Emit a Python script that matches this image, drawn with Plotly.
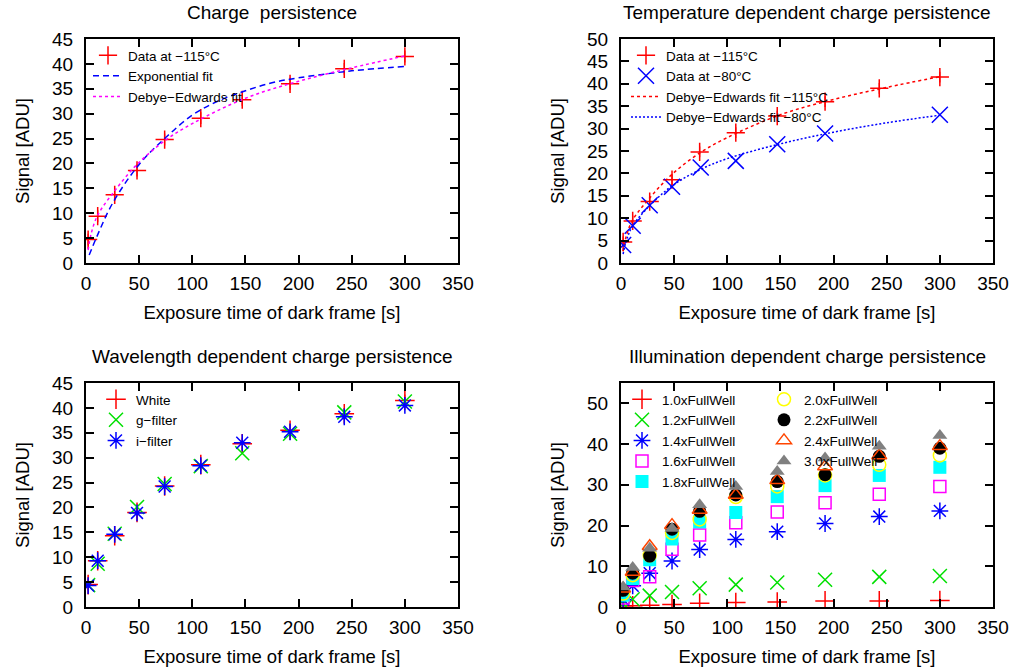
import plotly.graph_objects as go

# ---------------- data ----------------
t = [2, 11, 27, 48, 74, 108, 147, 192, 243, 300]

# Charge persistence (-115 C)
sig_115 = [4.7, 9.4, 13.7, 18.6, 24.8, 29.1, 32.8, 36.0, 39.0, 41.5]
err_115 = [1.2, 1.2, 1.2, 1.2, 1.2, 1.2, 1.2, 1.2, 1.2, 1.2]

exp_fit_t = [3, 10, 25, 50, 75, 100, 125, 150, 175, 200, 250, 300]
exp_fit_s = [1.6, 5.2, 12.0, 19.8, 25.2, 29.7, 32.6, 34.6, 36.2, 37.2, 38.6, 39.5]

de_fit_t = [2, 5, 11, 27, 48, 75, 100, 150, 200, 250, 300]
de_fit_115 = [2.6, 6.0, 9.6, 14.5, 19.8, 24.7, 28.0, 33.1, 36.5, 39.2, 41.6]
de_fit_80 = [2.0, 5.0, 8.3, 12.8, 17.2, 20.9, 23.3, 26.6, 29.2, 31.3, 33.0]

# Temperature dependent (-80 C)
t_80 = [2, 11, 27, 48, 75, 108, 147, 192, 300]
sig_80 = [4.0, 8.3, 12.9, 17.0, 21.3, 22.8, 26.5, 28.9, 33.1]

# Wavelength dependent
white = [4.5, 9.3, 14.3, 19.0, 24.3, 28.6, 32.8, 35.5, 38.8, 41.5]
g_filter = [4.4, 8.7, 14.7, 20.1, 24.7, 28.3, 30.9, 34.8, 39.1, 41.3]
i_filter = [4.3, 9.3, 14.6, 18.9, 24.2, 28.4, 33.0, 35.2, 38.2, 40.5]

# Illumination dependent
fw10 = [0.3, 0.3, 0.4, 0.6, 0.9, 1.1, 1.2, 1.5, 1.5, 1.6]
fw12 = [0.8, 1.9, 2.8, 3.7, 4.6, 5.5, 6.0, 6.7, 7.4, 7.6]
fw14 = [1.8, 5.2, 8.3, 11.3, 14.1, 16.6, 18.5, 20.5, 22.2, 23.6]
fw16 = [2.2, 6.5, 7.4, 14.2, 17.7, 20.7, 23.3, 25.6, 27.7, 29.6]
fw18 = [2.9, 7.0, 11.6, 16.7, 20.9, 23.2, 27.1, 29.8, 32.3, 34.3]
fw20 = [3.3, 7.8, 12.7, 18.2, 21.5, 27.0, 29.6, 32.3, 34.9, 37.2]
fw22 = [4.1, 8.3, 12.5, 19.1, 23.5, 27.5, 30.8, 32.5, 37.0, 39.0]
fw24 = [4.5, 8.6, 14.9, 20.1, 23.8, 27.5, 31.1, 34.5, 37.2, 39.5]
fw30 = [4.9, 9.7, 14.4, 19.3, 25.1, 29.6, 33.3, 36.6, 39.5, 42.1]

titles = ["Charge  persistence", "Temperature dependent charge persistence",
          "Wavelength dependent charge persistence", "Illumination dependent charge persistence"]
xlabel = "Exposure time of dark frame [s]"
ylabel = "Signal [ADU]"

# ---------------- figure ----------------
W, H = 1012, 668
FONT = "Liberation Sans, Arial, Helvetica, sans-serif"

def px(x):
    return x / W

def py(y):
    return 1 - y / H

RED, GREEN, BLUE = "#ff0000", "#00e000", "#0000ff"

fig = go.Figure()

def err(arr, color):
    return dict(type="data", array=arr, color=color, thickness=1.2, width=0)

# Panel 1
fig.add_trace(go.Scatter(x=t, y=sig_115, mode="markers", name="Data at \u2212115\u00b0C",
                         marker=dict(symbol="cross-thin", size=13, line=dict(color=RED, width=1.5), color=RED),
                         error_y=err(err_115, RED), xaxis="x", yaxis="y", legend="legend"))
fig.add_trace(go.Scatter(x=exp_fit_t, y=exp_fit_s, mode="lines", name="Exponential fit",
                         line=dict(color=BLUE, width=1.5, dash="6px,4px", shape="spline"),
                         xaxis="x", yaxis="y", legend="legend"))
fig.add_trace(go.Scatter(x=de_fit_t, y=de_fit_115, mode="lines", name="Debye\u2212Edwards fit",
                         line=dict(color="#ff00ff", width=1.5, dash="3px,3px", shape="spline"),
                         xaxis="x", yaxis="y", legend="legend"))

# Panel 2
fig.add_trace(go.Scatter(x=t, y=sig_115, mode="markers", name="Data at \u2212115\u00b0C",
                         marker=dict(symbol="cross-thin", size=13, line=dict(color=RED, width=1.5), color=RED),
                         error_y=err(err_115, RED), xaxis="x2", yaxis="y2", legend="legend2"))
fig.add_trace(go.Scatter(x=t_80, y=sig_80, mode="markers", name="Data at \u221280\u00b0C",
                         marker=dict(symbol="x-thin", size=16, line=dict(color=BLUE, width=1.5), color=BLUE),
                         xaxis="x2", yaxis="y2", legend="legend2"))
fig.add_trace(go.Scatter(x=de_fit_t, y=de_fit_115, mode="lines", name="Debye\u2212Edwards fit \u2212115\u00b0C",
                         line=dict(color=RED, width=1.5, dash="3px,3px", shape="spline"),
                         xaxis="x2", yaxis="y2", legend="legend2"))
fig.add_trace(go.Scatter(x=de_fit_t, y=de_fit_80, mode="lines", name="Debye\u2212Edwards fit \u221280\u00b0C",
                         line=dict(color=BLUE, width=1.5, dash="2px,2px", shape="spline"),
                         xaxis="x2", yaxis="y2", legend="legend2"))

# Panel 3
fig.add_trace(go.Scatter(x=t, y=white, mode="markers", name="White",
                         marker=dict(symbol="cross-thin", size=14, line=dict(color=RED, width=1.5), color=RED),
                         error_y=err(err_115, RED), xaxis="x3", yaxis="y3", legend="legend3"))
fig.add_trace(go.Scatter(x=t, y=g_filter, mode="markers", name="g\u2212filter",
                         marker=dict(symbol="x-thin", size=14, line=dict(color=GREEN, width=1.5), color=GREEN),
                         xaxis="x3", yaxis="y3", legend="legend3"))
fig.add_trace(go.Scatter(x=t, y=i_filter, mode="markers", name="i\u2212filter",
                         marker=dict(symbol="asterisk-open", size=14, line=dict(color=BLUE, width=1.5), color=BLUE),
                         xaxis="x3", yaxis="y3", legend="legend3"))

# Panel 4
specs = [
    (fw10, "1.0xFullWell", dict(symbol="cross-thin", size=14, line=dict(color=RED, width=1.5), color=RED), "legend4"),
    (fw12, "1.2xFullWell", dict(symbol="x-thin", size=14, line=dict(color=GREEN, width=1.5), color=GREEN), "legend4"),
    (fw14, "1.4xFullWell", dict(symbol="asterisk-open", size=14, line=dict(color=BLUE, width=1.5), color=BLUE), "legend4"),
    (fw16, "1.6xFullWell", dict(symbol="square-open", size=12, line=dict(color="#ff00ff", width=1.5), color="#ff00ff"), "legend4"),
    (fw18, "1.8xFullWell", dict(symbol="square", size=13, line=dict(width=0), color="#00ffff"), "legend4"),
    (fw20, "2.0xFullWell", dict(symbol="circle-open", size=13, line=dict(color="#ffff00", width=1.5), color="#ffff00"), "legend5"),
    (fw22, "2.2xFullWell", dict(symbol="circle", size=13, line=dict(width=0), color="#000000"), "legend5"),
    (fw24, "2.4xFullWell", dict(symbol="triangle-up-open", size=13, line=dict(color="#ff4500", width=1.5), color="#ff4500"), "legend5"),
    (fw30, "3.0xFullWell", dict(symbol="triangle-up", size=13, line=dict(width=0), color="#808080"), "legend5"),
]
for ys, nm, mk, lg in specs:
    fig.add_trace(go.Scatter(x=t, y=ys, mode="markers", name=nm, marker=mk,
                             xaxis="x4", yaxis="y4", legend=lg))

# ---------------- layout ----------------
cols = [(86, 458), (621, 993)]
rows = [(39, 263), (383, 607)]
yranges = [[0, 45], [0, 50], [0, 45], [0, 55]]
ydticks = [5, 5, 5, 10]

axis_common = dict(showline=True, linecolor="black", linewidth=2, mirror="allticks",
                   ticks="inside", ticklen=8, tickwidth=1.5, tickcolor="black",
                   showgrid=False, zeroline=False, automargin=False,
                   tickfont=dict(family=FONT, size=19, color="black"),
                   title_font=dict(family=FONT, size=18.5, color="black"))

layout = dict(width=W, height=H, margin=dict(l=0, r=0, t=0, b=0, pad=0, autoexpand=False),
              paper_bgcolor="white", plot_bgcolor="white",
              font=dict(family=FONT, color="black"), annotations=[])

for i in range(4):
    c = cols[i % 2]
    r = rows[i // 2]
    sfx = "" if i == 0 else str(i + 1)
    layout["xaxis" + sfx] = dict(axis_common, domain=[px(c[0]), px(c[1])], range=[0, 350], dtick=50,
                                 anchor="y" + sfx, ticklabelstandoff=2,
                                 title=dict(text=xlabel, standoff=13))
    layout["yaxis" + sfx] = dict(axis_common, domain=[py(r[1]), py(r[0])], range=yranges[i], dtick=ydticks[i],
                                 anchor="x" + sfx, ticklabelstandoff=7,
                                 title=dict(text=ylabel, standoff=18))
    layout["annotations"].append(dict(text=titles[i], x=px((c[0] + c[1]) / 2), y=py(r[0] - 27),
                                      xref="paper", yref="paper", showarrow=False,
                                      xanchor="center", yanchor="middle",
                                      font=dict(family=FONT, size=19, color="black")))

leg_common = dict(bgcolor="rgba(0,0,0,0)", borderwidth=0, font=dict(family=FONT, size=13.5, color="black"),
                  xanchor="left", yanchor="top", itemsizing="trace", tracegroupgap=0)
layout["legend"] = dict(leg_common, x=px(88), y=py(40))
layout["legend2"] = dict(leg_common, x=px(626), y=py(40))
layout["legend3"] = dict(leg_common, x=px(96), y=py(384))
layout["legend4"] = dict(leg_common, x=px(622), y=py(384))
layout["legend5"] = dict(leg_common, x=px(764), y=py(384))

fig.update_layout(**layout)
fig.write_html("out.html",
               post_script="document.body.style.margin='0';document.body.style.padding='0';")
